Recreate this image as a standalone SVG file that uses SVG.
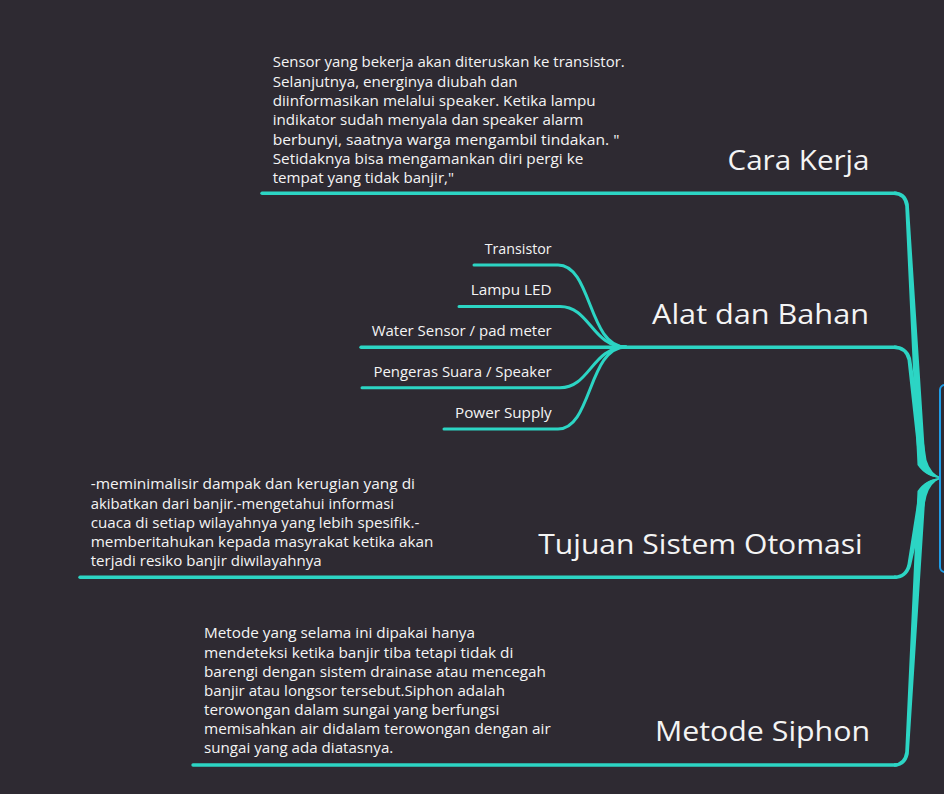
<svg xmlns="http://www.w3.org/2000/svg" width="944" height="794" viewBox="0 0 944 794">
<style>
.bg{fill:#2e2a32}
.ln{fill:none;stroke:#2cd5c4;stroke-width:3.4;stroke-linecap:round}
.sub{fill:none;stroke:#2cd5c4;stroke-width:3;stroke-linecap:round}
.wedge{fill:#2cd5c4}
.title{font-family:"Open Sans","Liberation Sans",sans-serif;font-size:28px;fill:#f4f4f4;text-anchor:end}
.leaf{font-family:"Open Sans","Liberation Sans",sans-serif;font-size:14.5px;fill:#f4f4f4;text-anchor:end}
.body{font-family:"Open Sans","Liberation Sans",sans-serif;font-size:14.5px;fill:#f4f4f4}
.center{fill:#2e2a32;stroke:#1e9ee8;stroke-width:2}
</style>
<rect class="bg" x="0" y="0" width="944" height="794"/>
<g id="connectors">
  <path class="ln" d="M262,193.3 H896"/>
  <path class="wedge" d="M894,191.6 Q906,191.6 908.8,204 L925.5,462 Q929.5,474 942,478 Q926,477.5 917.5,465 L905.2,206 Q903.5,195 894,195 Z"/>
  <path class="ln" d="M361,347.2 H896"/>
  <path class="wedge" d="M894,345.5 Q907,345.5 911,358 L926.5,460 Q930.5,474 942,478 Q926,477.5 919,465 L907.5,360 Q905,348.9 894,348.9 Z"/>
  <path class="ln" d="M80,577.3 H896"/>
  <path class="wedge" d="M894,579 Q907,579 911,566 L926.5,496 Q930.5,482 942,478 Q926,478.5 919,491 L907.5,564 Q905,575.6 894,575.6 Z"/>
  <path class="ln" d="M193,765 H896"/>
  <path class="wedge" d="M894,766.7 Q906,766.7 908.8,754 L925.5,494 Q929.5,482 942,478 Q926,478.5 917.5,491 L905.2,752 Q903.5,763.3 894,763.3 Z"/>
  <path class="sub" d="M474,265 H558 C592,265 588,347 626,347"/>
  <path class="sub" d="M459,306.5 H560 C590,306.5 592,347 626,347"/>
  <path class="sub" d="M362,387.8 H560 C590,387.8 592,347 626,347"/>
  <path class="sub" d="M444,429 H558 C592,429 588,347 626,347"/>
</g>
<g id="center-node">
  <rect class="center" x="940" y="385" width="40" height="187" rx="5"/>
</g>
<g id="cara-kerja">
  <text class="title" x="869.5" y="170" textLength="142" lengthAdjust="spacingAndGlyphs">Cara Kerja</text>
  <text class="body" x="272.7" y="67.3" textLength="352" lengthAdjust="spacingAndGlyphs">Sensor yang bekerja akan diteruskan ke transistor.</text>
  <text class="body" x="272.7" y="86.6" textLength="245" lengthAdjust="spacingAndGlyphs">Selanjutnya, energinya diubah dan</text>
  <text class="body" x="272.7" y="105.9" textLength="323" lengthAdjust="spacingAndGlyphs">diinformasikan melalui speaker. Ketika lampu</text>
  <text class="body" x="272.7" y="125.2" textLength="310.7" lengthAdjust="spacingAndGlyphs">indikator sudah menyala dan speaker alarm</text>
  <text class="body" x="272.7" y="144.5" textLength="346.7" lengthAdjust="spacingAndGlyphs">berbunyi, saatnya warga mengambil tindakan. "</text>
  <text class="body" x="272.7" y="163.8" textLength="310.7" lengthAdjust="spacingAndGlyphs">Setidaknya bisa mengamankan diri pergi ke</text>
  <text class="body" x="272.7" y="183.1" textLength="181.3" lengthAdjust="spacingAndGlyphs">tempat yang tidak banjir,"</text>
</g>
<g id="alat-dan-bahan">
  <text class="title" x="869" y="324.3" textLength="217" lengthAdjust="spacingAndGlyphs">Alat dan Bahan</text>
</g>
<g id="transistor"><text class="leaf" x="551.7" y="254" textLength="67" lengthAdjust="spacingAndGlyphs">Transistor</text></g>
<g id="lampu-led"><text class="leaf" x="551.7" y="295" textLength="81" lengthAdjust="spacingAndGlyphs">Lampu LED</text></g>
<g id="water-sensor"><text class="leaf" x="551.7" y="336" textLength="180" lengthAdjust="spacingAndGlyphs">Water Sensor / pad meter</text></g>
<g id="pengeras-suara"><text class="leaf" x="551.7" y="377" textLength="178.3" lengthAdjust="spacingAndGlyphs">Pengeras Suara / Speaker</text></g>
<g id="power-supply"><text class="leaf" x="551.7" y="418" textLength="96.7" lengthAdjust="spacingAndGlyphs">Power Supply</text></g>
<g id="tujuan-sistem-otomasi">
  <text class="title" x="862.7" y="554.3" textLength="324.4" lengthAdjust="spacingAndGlyphs">Tujuan Sistem Otomasi</text>
  <text class="body" x="90.7" y="489.3" textLength="324.3" lengthAdjust="spacingAndGlyphs">-meminimalisir dampak dan kerugian yang di</text>
  <text class="body" x="90.7" y="508.5" textLength="303.3" lengthAdjust="spacingAndGlyphs">akibatkan dari banjir.-mengetahui informasi</text>
  <text class="body" x="90.7" y="527.7" textLength="328.7" lengthAdjust="spacingAndGlyphs">cuaca di setiap wilayahnya yang lebih spesifik.-</text>
  <text class="body" x="90.7" y="546.9" textLength="342.7" lengthAdjust="spacingAndGlyphs">memberitahukan kepada masyrakat ketika akan</text>
  <text class="body" x="90.7" y="566.1" textLength="231" lengthAdjust="spacingAndGlyphs">terjadi resiko banjir diwilayahnya</text>
</g>
<g id="metode-siphon">
  <text class="title" x="870" y="740.7" textLength="215" lengthAdjust="spacingAndGlyphs">Metode Siphon</text>
  <text class="body" x="204" y="638.3" textLength="271" lengthAdjust="spacingAndGlyphs">Metode yang selama ini dipakai hanya</text>
  <text class="body" x="204" y="657.5" textLength="309.3" lengthAdjust="spacingAndGlyphs">mendeteksi ketika banjir tiba tetapi tidak di</text>
  <text class="body" x="204" y="676.7" textLength="342" lengthAdjust="spacingAndGlyphs">barengi dengan sistem drainase atau mencegah</text>
  <text class="body" x="204" y="695.9" textLength="301" lengthAdjust="spacingAndGlyphs">banjir atau longsor tersebut.Siphon adalah</text>
  <text class="body" x="204" y="715.1" textLength="295.3" lengthAdjust="spacingAndGlyphs">terowongan dalam sungai yang berfungsi</text>
  <text class="body" x="204" y="734.3" textLength="346.7" lengthAdjust="spacingAndGlyphs">memisahkan air didalam terowongan dengan air</text>
  <text class="body" x="204" y="753.4" textLength="189.3" lengthAdjust="spacingAndGlyphs">sungai yang ada diatasnya.</text>
</g>
</svg>
